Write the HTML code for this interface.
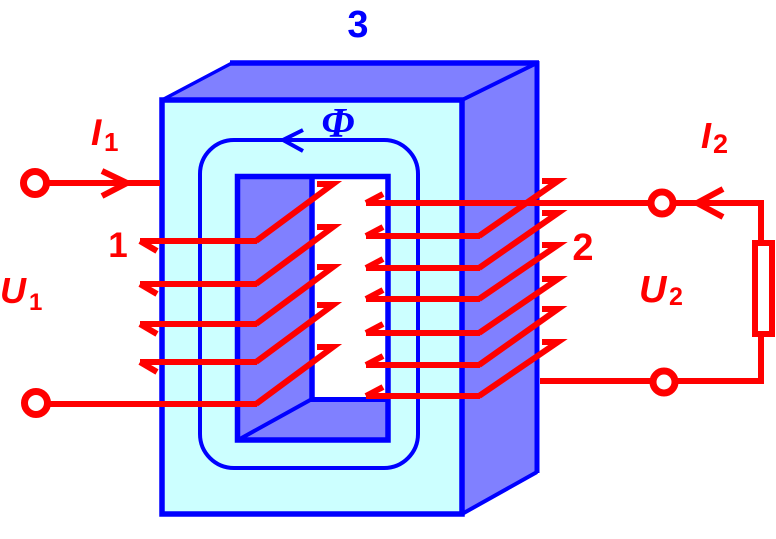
<!DOCTYPE html>
<html>
<head>
<meta charset="utf-8">
<style>
  html,body{margin:0;padding:0;background:#fff;}
  body{width:776px;height:539px;overflow:hidden;}
  svg{display:block;}
  .lab{font-family:"Liberation Sans",sans-serif;font-weight:bold;}
</style>
</head>
<body>
<svg width="776" height="539" viewBox="0 0 776 539" xmlns="http://www.w3.org/2000/svg">
  <!-- label 3 -->
  <text class="lab" x="358" y="37" font-size="38" fill="#0000ff" text-anchor="middle">3</text>

  <!-- core: top face -->
  <polygon points="162,100 232,63 537,63 462,100" fill="#8080ff" stroke="none"/>
  <!-- side face -->
  <polygon points="462,100 537,63 537,472 462,514" fill="#8080ff" stroke="none"/>
  <!-- edges of top/side -->
  <line x1="162" y1="100" x2="232" y2="63" stroke="#0000ff" stroke-width="3.5"/>
  <line x1="230" y1="63" x2="539" y2="63" stroke="#0000ff" stroke-width="5.5"/>
  <line x1="462" y1="100" x2="537" y2="63" stroke="#0000ff" stroke-width="4"/>
  <line x1="537" y1="61" x2="537" y2="473" stroke="#0000ff" stroke-width="5"/>
  <line x1="462" y1="514" x2="537" y2="472" stroke="#0000ff" stroke-width="4"/>

  <!-- front face -->
  <rect x="162" y="100" width="300" height="414" fill="#ccffff" stroke="#0000ff" stroke-width="5.5"/>

  <!-- window -->
  <rect x="237.5" y="176.5" width="150.5" height="263.5" fill="#ffffff" stroke="none"/>
  <polygon points="238,177 312,177 312,399 238,440" fill="#8080ff"/>
  <polygon points="312,399 388,399 388,440 238,440" fill="#8080ff"/>
  <line x1="312" y1="177" x2="312" y2="400" stroke="#0000ff" stroke-width="5.5"/>
  <line x1="310" y1="399.5" x2="388" y2="399.5" stroke="#0000ff" stroke-width="5"/>
  <line x1="312" y1="399" x2="238" y2="440" stroke="#0000ff" stroke-width="4"/>
  <rect x="237.5" y="176.5" width="150.5" height="263.5" fill="none" stroke="#0000ff" stroke-width="5.5"/>

  <!-- flux loop -->
  <rect x="200" y="140" width="218" height="328" rx="34" ry="34" fill="none" stroke="#0000ff" stroke-width="4"/>
  <polyline points="303,130 283,140 303,151" fill="none" stroke="#0000ff" stroke-width="4"/>
  <text x="338" y="137" font-family="Liberation Serif, serif" font-weight="bold" font-style="italic" font-size="42" fill="#0000ff" text-anchor="middle">Φ</text>

  <!-- ===== primary winding ===== -->
  <g stroke="#ff0000" stroke-width="6" fill="none" stroke-linejoin="miter">
    <!-- input lead -->
    <line x1="35" y1="183" x2="160" y2="183"/>
    <polyline points="102,171 127,183 102,196"/>
    <!-- bottom lead -->
    <line x1="35" y1="404" x2="257" y2="404"/>
    <polyline points="256,404 333,347 317,347"/>
    <!-- turns -->
    <line x1="140" y1="241" x2="257" y2="241"/>
    <polyline points="256,241 333,184 317,184"/>
    <polyline points="157,251 140,241"/>

    <line x1="140" y1="284" x2="257" y2="284"/>
    <polyline points="256,284 333,227 317,227"/>
    <polyline points="157,294 140,284"/>

    <line x1="140" y1="324" x2="257" y2="324"/>
    <polyline points="256,324 333,267 317,267"/>
    <polyline points="157,334 140,324"/>

    <line x1="140" y1="362" x2="257" y2="362"/>
    <polyline points="256,362 333,305 317,305"/>
    <polyline points="157,372 140,362"/>
  </g>
  <g fill="#ffffff" stroke="#ff0000" stroke-width="7">
    <circle cx="35" cy="183" r="11.5"/>
    <circle cx="36" cy="403" r="11.5"/>
  </g>

  <!-- ===== secondary winding ===== -->
  <g stroke="#ff0000" stroke-width="6" fill="none">
    <!-- top lead -->
    <line x1="366" y1="203" x2="764" y2="203"/>
    <polyline points="383,194 366,203"/>
    <polyline points="723,189 697,203 723,217"/>
    <line x1="761" y1="203" x2="761" y2="242"/>
    <line x1="761" y1="335" x2="761" y2="382"/>
    <line x1="540" y1="381" x2="764" y2="381"/>
    <!-- turns -->
    <line x1="366" y1="236" x2="480" y2="236"/><polyline points="383,227 366,236"/><polyline points="479,236 558,181 542,181"/>
    <line x1="366" y1="268" x2="480" y2="268"/><polyline points="383,259 366,268"/><polyline points="479,268 558,213 542,213"/>
    <line x1="366" y1="299" x2="480" y2="299"/><polyline points="383,290 366,299"/><polyline points="479,299 558,245 542,245"/>
    <line x1="366" y1="333" x2="480" y2="333"/><polyline points="383,324 366,333"/><polyline points="479,333 558,279 542,279"/>
    <line x1="366" y1="365" x2="480" y2="365"/><polyline points="383,356 366,365"/><polyline points="479,365 558,309 542,309"/>
    <line x1="366" y1="396" x2="480" y2="396"/><polyline points="383,387 366,396"/><polyline points="479,396 558,342 542,342"/>
  </g>
  <rect x="755" y="243" width="17" height="91" fill="#ffffff" stroke="#ff0000" stroke-width="6"/>
  <g fill="#ffffff" stroke="#ff0000" stroke-width="7">
    <circle cx="662" cy="203" r="11"/>
    <circle cx="664" cy="382" r="11"/>
  </g>

  <!-- labels -->
  <g class="lab" fill="#ff0000">
    <text x="91" y="145" font-size="37" font-style="italic">I</text>
    <text x="104" y="151" font-size="26">1</text>
    <text x="701" y="148" font-size="36" font-style="italic">I</text>
    <text x="713" y="153" font-size="27">2</text>
    <text x="118" y="257" font-size="35" text-anchor="middle">1</text>
    <text x="583" y="260" font-size="38" text-anchor="middle">2</text>
    <text x="0" y="303" font-size="36" font-style="italic">U</text>
    <text x="29" y="310" font-size="24">1</text>
    <text x="639" y="302" font-size="38" font-style="italic">U</text>
    <text x="669" y="305" font-size="25">2</text>
  </g>
</svg>
</body>
</html>
